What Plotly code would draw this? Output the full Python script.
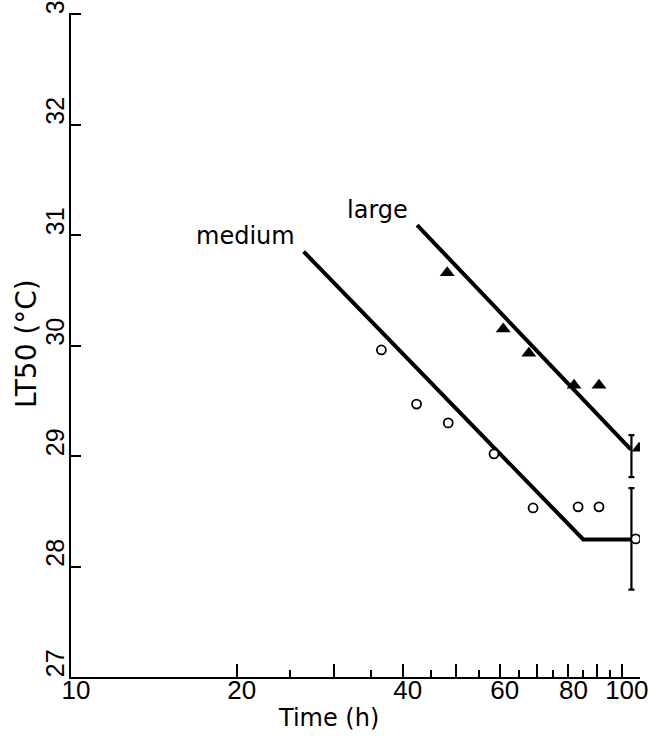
import math
import plotly.graph_objects as go

# --- data ---
medium_time = [36.6, 42.4, 48.4, 58.6, 69.0, 83.3, 90.9, 106.0]
medium_lt50 = [29.96, 29.47, 29.30, 29.02, 28.53, 28.54, 28.54, 28.25]

large_time = [48.2, 60.9, 67.8, 81.9, 90.9, 107.5]
large_lt50 = [30.66, 30.15, 29.93, 29.64, 29.64, 29.07]

medium_fit_time = [26.45, 85.1, 104.6]
medium_fit_lt50 = [30.85, 28.245, 28.245]

large_fit_time = [42.5, 103.8]
large_fit_lt50 = [31.09, 29.06]

err_time = [104.1, 104.1]
err_center = [29.0, 28.25]
err_half = [0.19, 0.46]

x_tick_vals = [10, 20, 30, 40, 50, 60, 70, 80, 90, 100]
x_tick_text = ["10", "20", "", "40", "", "60", "", "80", "", "100"]
x_minor_vals = [25, 35, 45, 55, 65, 75, 85, 95]
y_tick_vals = [27, 28, 29, 30, 31, 32, 33]

label_names = ["medium", "large"]
label_time = [20.7, 35.96]
label_lt50 = [30.99, 31.23]

fig = go.Figure()

fig.add_trace(go.Scatter(x=medium_fit_time, y=medium_fit_lt50, mode="lines",
                         line=dict(color="black", width=4), showlegend=False))
fig.add_trace(go.Scatter(x=large_fit_time, y=large_fit_lt50, mode="lines",
                         line=dict(color="black", width=4), showlegend=False))
fig.add_trace(go.Scatter(x=err_time, y=err_center, mode="markers",
                         marker=dict(size=1, color="rgba(0,0,0,0)"),
                         error_y=dict(type="data", array=err_half, visible=True,
                                      color="black", thickness=2.2, width=3),
                         showlegend=False))
fig.add_trace(go.Scatter(x=medium_time, y=medium_lt50, mode="markers",
                         marker=dict(symbol="circle", size=9, color="white",
                                     line=dict(color="black", width=1.8)),
                         showlegend=False))
fig.add_trace(go.Scatter(x=large_time, y=large_lt50, mode="markers",
                         marker=dict(symbol="triangle-up", size=13, color="black",
                                     line=dict(width=0)),
                         showlegend=False))

for name, t, v in zip(label_names, label_time, label_lt50):
    fig.add_annotation(x=math.log10(t), y=v, text=name, showarrow=False,
                       font=dict(family="DejaVu Sans", size=24, color="black"),
                       xanchor="center", yanchor="middle")

fig.add_annotation(xref="paper", yref="paper", x=0.453, y=0, yshift=-41,
                   text="Time (h)", showarrow=False, xanchor="center", yanchor="middle",
                   font=dict(family="DejaVu Sans", size=24, color="black"))
fig.add_annotation(xref="paper", yref="paper", x=0, xshift=-45, y=0.5015,
                   text="LT50 (°C)", showarrow=False, textangle=-90,
                   xanchor="center", yanchor="middle",
                   font=dict(family="DejaVu Sans", size=28, color="black"))

fig.update_xaxes(type="log", range=[1.0, 2.033], automargin=False,
                 tickvals=x_tick_vals, ticktext=x_tick_text,
                 ticks="inside", ticklen=13, tickwidth=2, tickcolor="black",
                 minor=dict(tickvals=x_minor_vals, ticks="inside", ticklen=7,
                            tickwidth=2, tickcolor="black", showgrid=False),
                 showline=True, linecolor="black", linewidth=2, mirror=False,
                 showgrid=False, zeroline=False,
                 ticklabelstandoff=-11, ticklabelshift=5, ticklabeloverflow="allow",
                 tickfont=dict(family="Liberation Sans", size=26, color="black"))
fig.update_yaxes(range=[27, 33.01], tickvals=y_tick_vals, tickangle=-90,
                 automargin=False,
                 ticks="inside", ticklen=10, tickwidth=2, tickcolor="black",
                 showline=True, linecolor="black", linewidth=2, mirror=False,
                 showgrid=False, zeroline=False,
                 ticklabelstandoff=-5, ticklabelshift=-10, ticklabeloverflow="allow",
                 tickfont=dict(family="Liberation Sans", size=25, color="black"))

fig.update_layout(width=651, height=736,
                  margin=dict(l=71, r=11, t=13, b=59),
                  paper_bgcolor="white", plot_bgcolor="white")

fig.write_html("out.html", config={"displayModeBar": False},
               post_script="document.body.style.margin='0';document.body.style.overflow='hidden';")
